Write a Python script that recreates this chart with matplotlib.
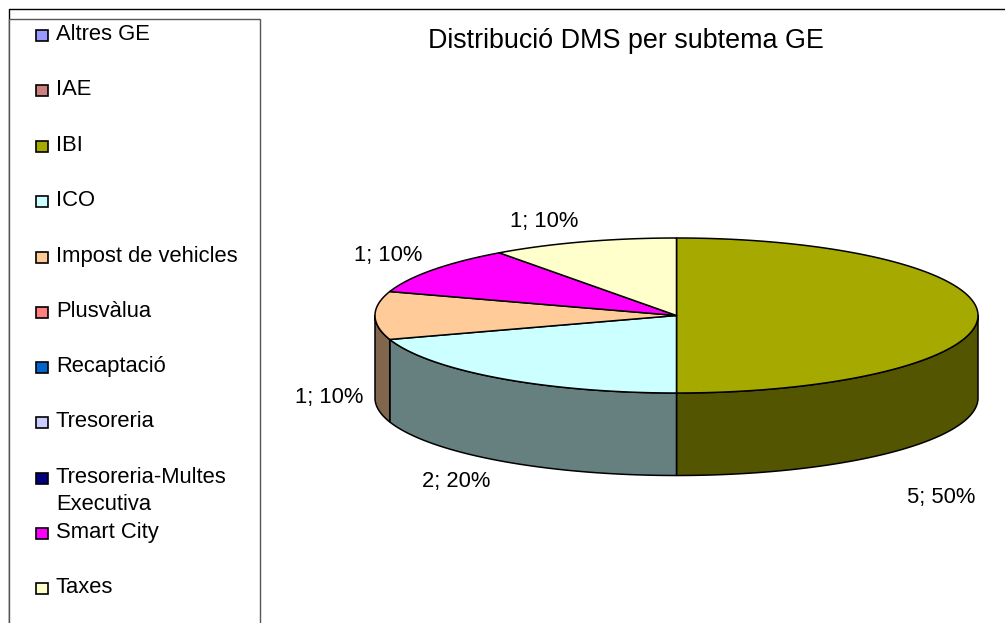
#!/usr/bin/env python3
import numpy as np
import matplotlib
matplotlib.use("Agg")
import matplotlib.pyplot as plt
from matplotlib.patches import Polygon, Rectangle

plt.rcParams['font.family'] = ['Liberation Sans', 'DejaVu Sans']

# Data
categories = ['Altres GE', 'IAE', 'IBI', 'ICO', 'Impost de vehicles', 'Plusvàlua',
              'Recaptació', 'Tresoreria', 'Tresoreria-Multes\nExecutiva', 'Smart City', 'Taxes']
values = [0, 0, 5, 2, 1, 0, 0, 0, 0, 1, 1]
colors = ['#9999FF', '#CC8080', '#A6AA00', '#CCFFFF', '#FFCC99', '#FF8080',
          '#0066CC', '#CCCCFF', '#000080', '#FF00FF', '#FFFFCC']
title = 'Distribució DMS per subtema GE'

# Layout in pixels
W, H = 1005, 623
cx, cy, rx, ry, depth = 676.5, 315.5, 301.5, 77.5, 82.5
legend_y = [33, 88, 144, 199, 255, 310, 365, 420, 476, 531, 586]
# label anchors for the non-empty slices, in drawing order
label_xy = [(941, 497), (456, 481), (329, 397), (388, 254), (544, 220)]

fig = plt.figure(figsize=(W / 100, H / 100), dpi=100)
ax = fig.add_axes([0, 0, 1, 1])
ax.set_xlim(0, W)
ax.set_ylim(H, 0)
ax.axis('off')

# Frame and legend box
ax.plot([8.5, 8.5, W], [H, 8.5, 8.5], color='black', lw=1, zorder=1)
ax.add_patch(Rectangle((9, 18.5), 250.5, H, fc='white', ec='#555555', lw=1, zorder=1))

for name, col, y in zip(categories, colors, legend_y):
    ax.add_patch(Rectangle((36, y - 3.5), 12, 11, fc=col, ec='black', lw=1.2, zorder=3))
    if '\n' in name:
        ax.text(56, y - 9, name, fontsize=15.8, va='top', ha='left',
                linespacing=1.4, color='black')
    else:
        ax.text(56, y + 1.5, name, fontsize=15.8, va='center', ha='left', color='black')

ax.text(626, 41.5, title, fontsize=19.4, ha='center', va='center', color='black')


def ell(a, dy=0.0):
    # a is measured clockwise from the top of the pie
    return np.column_stack([cx + rx * np.sin(a), cy - ry * np.cos(a) + dy])


def darker(c):
    return tuple(0.5 * v for v in matplotlib.colors.to_rgb(c))


# Pie slices, clockwise from 12 o'clock
total = sum(values)
angles = np.cumsum([0] + [v / total * 2 * np.pi for v in values])
slices = [(angles[i], angles[i + 1], colors[i], values[i])
          for i in range(len(values)) if values[i] > 0]

# Sides first: only the part facing the viewer (pi/2 .. 3pi/2)
for a0, a1, col, v in slices:
    s0, s1 = max(a0, np.pi / 2), min(a1, 3 * np.pi / 2)
    if s1 <= s0:
        continue
    t = np.linspace(s0, s1, 120)
    pts = np.vstack([ell(t), ell(t[::-1], depth)])
    ax.add_patch(Polygon(pts, closed=True, fc=darker(col), ec='black', lw=1.1,
                         joinstyle='round', zorder=4))

# Then the top faces
for a0, a1, col, v in slices:
    t = np.linspace(a0, a1, 200)
    pts = np.vstack([[cx, cy], ell(t)])
    ax.add_patch(Polygon(pts, closed=True, fc=col, ec='black', lw=1.1,
                         joinstyle='round', zorder=5))

# Data labels
for (a0, a1, col, v), (lx, ly) in zip(slices, label_xy):
    ax.text(lx, ly + 1, f'{v}; {v / total:.0%}', fontsize=15.8, ha='center', va='center',
            color='black', zorder=6)

fig.savefig('out.png', dpi=100)
